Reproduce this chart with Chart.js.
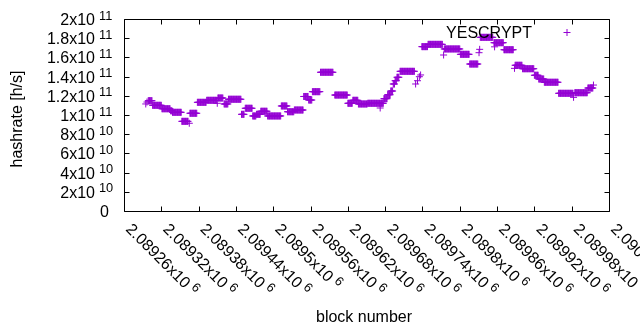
<!DOCTYPE html>
<html lang="en">
<head>
<meta charset="UTF-8" />
<title>YESCRYPT hashrate</title>
<script src="https://cdn.jsdelivr.net/npm/chart.js"></script>
<style>
  body { margin: 0; background: #fff; }
  #wrap { width: 640px; height: 330px; }
</style>
</head>
<body>
<div id="wrap"><canvas id="myChart"></canvas></div>
<script>
const seriesName = "YESCRYPT";
// runs of blocks that share one hashrate estimate (value in 1e9 h/s)
const runStart = [2089295, 2089297, 2089299, 2089306, 2089321, 2089335, 2089338, 2089353, 2089365, 2089366,
  2089378, 2089393, 2089410, 2089411, 2089421, 2089428, 2089449, 2089455, 2089467, 2089473,
  2089480, 2089491, 2089513, 2089523, 2089534, 2089549, 2089557, 2089563, 2089576, 2089599,
  2089620, 2089628, 2089637, 2089652, 2089672, 2089678, 2089684, 2089689, 2089693, 2089696,
  2089699, 2089704, 2089729, 2089732, 2089735, 2089737, 2089739, 2089749, 2089774, 2089775,
  2089801, 2089816, 2089831, 2089832, 2089833, 2089855, 2089856, 2089871, 2089888, 2089889,
  2089901, 2089920, 2089927, 2089936, 2089959, 2089983, 2089985, 2090006, 2090015];
const runEnd = [2089295, 2089297, 2089305, 2089320, 2089334, 2089337, 2089352, 2089363, 2089365, 2089377,
  2089392, 2089409, 2089410, 2089419, 2089427, 2089448, 2089453, 2089466, 2089472, 2089479,
  2089490, 2089512, 2089522, 2089533, 2089548, 2089556, 2089562, 2089575, 2089596, 2089619,
  2089627, 2089636, 2089651, 2089677, 2089672, 2089683, 2089688, 2089692, 2089695, 2089698,
  2089702, 2089727, 2089729, 2089732, 2089735, 2089737, 2089748, 2089772, 2089774, 2089800,
  2089815, 2089829, 2089831, 2089832, 2089853, 2089870, 2089856, 2089886, 2089888, 2089900,
  2089919, 2089926, 2089935, 2089958, 2089982, 2089983, 2090005, 2090014, 2090015];
const runValue = [111.5, 113.5, 114.9, 110.1, 106.5, 104.4, 102.8, 93.4, 91.4, 101.8,
  113.2, 115.3, 112.2, 117.7, 111.5, 116.4, 100.7, 107.0, 99.0, 100.7,
  103.9, 99.0, 109.4, 103.4, 105.2, 119.3, 115.6, 124.3, 144.5, 120.8,
  112.2, 115.3, 111.5, 112.2, 107.3, 117.0, 121.1, 125.0, 132.3, 135.7,
  139.3, 145.5, 132.3, 135.7, 139.9, 141.7, 171.2, 173.6, 162.5, 168.8,
  163.2, 153.1, 164.9, 168.4, 180.9, 175.3, 171.0, 168.0, 148.6, 151.8,
  148.2, 141.4, 137.5, 134.1, 122.6, 118.4, 123.2, 128.1, 131.2];
const xTicks = [2089260, 2089320, 2089380, 2089440, 2089500, 2089560, 2089620, 2089680,
  2089740, 2089800, 2089860, 2089920, 2089980, 2090040];
const yTicks = [0, 2e10, 4e10, 6e10, 8e10, 1e11, 1.2e11, 1.4e11, 1.6e11, 1.8e11, 2e11];

const points = [];
runStart.forEach((s, i) => {
  for (let b = s; b <= runEnd[i]; b++) points.push({ x: b, y: runValue[i] * 1e9 });
});

const purple = "#9400d3";
const FONT = "'Liberation Sans', Arial, sans-serif";

function sciParts(v) {
  if (v === 0) return ["0", ""];
  const e = Math.floor(Math.log10(v) + 1e-9);
  const m = parseFloat((v / Math.pow(10, e)).toFixed(5));
  return [m + "x10", String(e)];
}

const gnuFrame = {
  id: "gnuFrame",
  afterDraw(chart) {
    const { ctx, chartArea: a } = chart;
    const xs = chart.scales.x, ys = chart.scales.y;
    ctx.save();
    ctx.strokeStyle = "#000";
    ctx.lineWidth = 1;
    const L = Math.round(a.left) + 0.5, R = Math.round(a.right) + 0.5;
    const T = Math.round(a.top) + 0.5, B = Math.round(a.bottom) + 0.5;
    ctx.beginPath();
    ctx.rect(L, T, R - L, B - T);
    yTicks.forEach(v => {
      const py = Math.round(ys.getPixelForValue(v)) + 0.5;
      ctx.moveTo(L, py); ctx.lineTo(L + 5, py);
      ctx.moveTo(R, py); ctx.lineTo(R - 5, py);
    });
    xTicks.forEach(v => {
      const px = Math.round(xs.getPixelForValue(v)) + 0.5;
      ctx.moveTo(px, B); ctx.lineTo(px, B - 5);
      ctx.moveTo(px, T); ctx.lineTo(px, T + 5);
    });
    ctx.stroke();

    ctx.fillStyle = "#000";
    // y tick labels
    yTicks.forEach(v => {
      const py = ys.getPixelForValue(v);
      const [m, e] = sciParts(v);
      ctx.font = "16px " + FONT;
      ctx.textBaseline = "alphabetic";
      ctx.textAlign = "right";
      if (!e) { ctx.fillText(m, 109, py + 6); return; }
      ctx.fillText(m, 95, py + 6);
      ctx.font = "12.8px " + FONT;
      ctx.textAlign = "left";
      ctx.fillText(e, 99, py + 0.5);
    });
    // x tick labels, rotated
    xTicks.forEach(v => {
      const px = xs.getPixelForValue(v);
      const [m, e] = sciParts(v);
      ctx.save();
      ctx.translate(px + 1, 230);
      ctx.rotate(Math.PI / 4);
      ctx.font = "16px " + FONT;
      ctx.textAlign = "left";
      ctx.textBaseline = "alphabetic";
      ctx.fillText(m, 0, 0);
      const w = ctx.measureText(m).width;
      ctx.font = "12.8px " + FONT;
      ctx.fillText(e, w + 4, -5.5);
      ctx.restore();
    });
    // axis titles
    ctx.font = "16px " + FONT;
    ctx.textAlign = "center";
    ctx.textBaseline = "alphabetic";
    ctx.fillText("block number", 364, 322);
    ctx.save();
    ctx.translate(21.5, 119);
    ctx.rotate(-Math.PI / 2);
    ctx.fillText("hashrate [h/s]", 0, 0);
    ctx.restore();
    // key
    ctx.textAlign = "right";
    ctx.fillText(seriesName, 532, 37.5);
    ctx.strokeStyle = purple;
    ctx.beginPath();
    ctx.moveTo(563.5, 32.5); ctx.lineTo(570.5, 32.5);
    ctx.moveTo(567, 29); ctx.lineTo(567, 36);
    ctx.stroke();
    ctx.restore();
  }
};

new Chart(document.getElementById("myChart"), {
  type: "scatter",
  data: {
    datasets: [{
      label: seriesName,
      data: points,
      pointStyle: "cross",
      pointRadius: 3.5,
      borderColor: purple,
      backgroundColor: purple,
      borderWidth: 1,
      showLine: false
    }]
  },
  options: {
    responsive: true,
    maintainAspectRatio: false,
    animation: false,
    events: [],
    layout: { padding: { left: 124, right: 31, top: 19, bottom: 119 } },
    plugins: { legend: { display: false }, tooltip: { enabled: false } },
    scales: {
      x: { type: "linear", min: 2089260, max: 2090040, display: false },
      y: { min: 0, max: 2e11, display: false }
    }
  },
  plugins: [gnuFrame]
});
</script>
</body>
</html>
